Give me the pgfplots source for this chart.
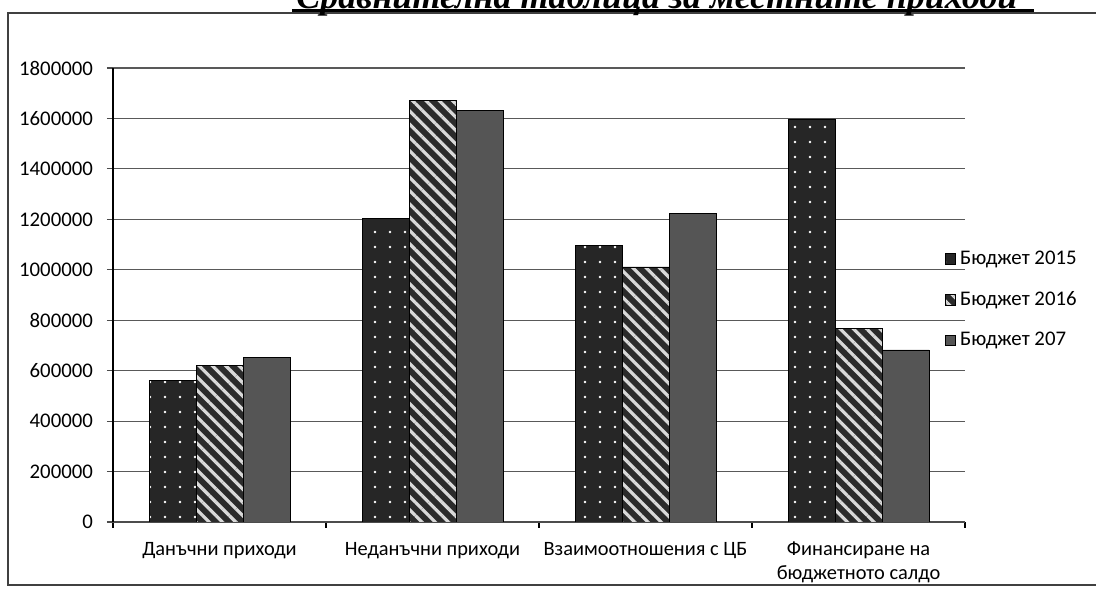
\documentclass[border=0pt]{standalone}
\usepackage{pgfplots}
\pgfplotsset{compat=1.18}
\usepackage{fontspec}
\setmainfont{Carlito}
\newfontfamily\titlefont{Liberation Serif}
\usetikzlibrary{patterns.meta}
\definecolor{barA}{HTML}{262626}
\definecolor{barB}{HTML}{2B2B2B}
\definecolor{barC}{HTML}{555555}
\begin{document}
\begin{tikzpicture}
\useasboundingbox (0,0) rectangle (548pt,296pt);
\clip (0,0) rectangle (548pt,296pt);
% frame
\draw[black!75, line width=0.7pt] (560pt,3.5pt) -- (4pt,3.5pt) -- (4pt,289.5pt) -- (560pt,289.5pt);
% title (cut by the page edge, as in the scanned original)
\node[anchor=base west, inner sep=0pt, font=\titlefont\bfseries\itshape\fontsize{18}{20}\selectfont] at (148pt,291.6pt) {Сравнителна таблица за местните приходи};
\draw[line width=1.3pt] (146pt,290.6pt) -- (517pt,290.6pt);
\begin{axis}[
  at={(56.5pt,35pt)}, anchor=south west,
  scale only axis, width=426pt, height=227pt,
  ybar=0pt, bar width=23.5pt,
  xmin=-0.5, xmax=3.5, ymin=0, ymax=1800000,
  ytick={0,200000,...,1800000},
  scaled y ticks=false,
  /pgf/number format/fixed,
  /pgf/number format/1000 sep={},
  /pgf/number format/assume math mode=true,
  yticklabel style={font=\fontsize{10.4}{12}\selectfont, xshift=-3.5pt},
  xtick={0,1,2,3},
  xticklabels={Данъчни приходи, Неданъчни приходи, Взаимоотношения с ЦБ, {Финансиране на\\бюджетното салдо}},
  xticklabel style={font=\fontsize{10.2}{12}\selectfont, align=center, yshift=-3.5pt},
  major x tick style={draw=none},
  minor xtick={-0.5,0.5,1.5,2.5,3.5},
  minor x tick style={black, line width=0.6pt},
  tick align=outside,
  major tick length=3pt, minor tick length=3pt,
  ytick style={black!70, line width=0.6pt},
  axis x line*=bottom, axis y line*=left,
  x axis line style={black!70, line width=0.6pt},
  y axis line style={black, line width=0.8pt},
  ymajorgrids, grid style={black!65, line width=0.6pt},
  legend style={at={(0.976,0.607)}, anchor=north west, draw=none, fill=none,
    font=\fontsize{10.4}{12}\selectfont, row sep=8pt, inner sep=0pt},
  legend cell align=left,
  legend image code/.code={\draw[#1, draw=black] (0pt,-2.6pt) rectangle (5.2pt,2.6pt);},
]
\addplot[draw=black, line width=0.4pt, fill=barA, postaction={pattern={Dots[distance=7.5pt, radius=0.7pt]}, pattern color=white}]
  coordinates {(0,560000) (1,1205000) (2,1095000) (3,1598000)};
\addplot[draw=black, line width=0.4pt, fill=barB, postaction={pattern={Lines[angle=-45, distance=4.7pt, line width=1.6pt]}, pattern color=white!85!black}]
  coordinates {(0,619000) (1,1670000) (2,1011000) (3,769000)};
\addplot[draw=black, line width=0.4pt, fill=barC]
  coordinates {(0,654000) (1,1630000) (2,1225000) (3,682000)};
\legend{Бюджет 2015, Бюджет 2016, Бюджет 207}
\end{axis}
\end{tikzpicture}
\end{document}
